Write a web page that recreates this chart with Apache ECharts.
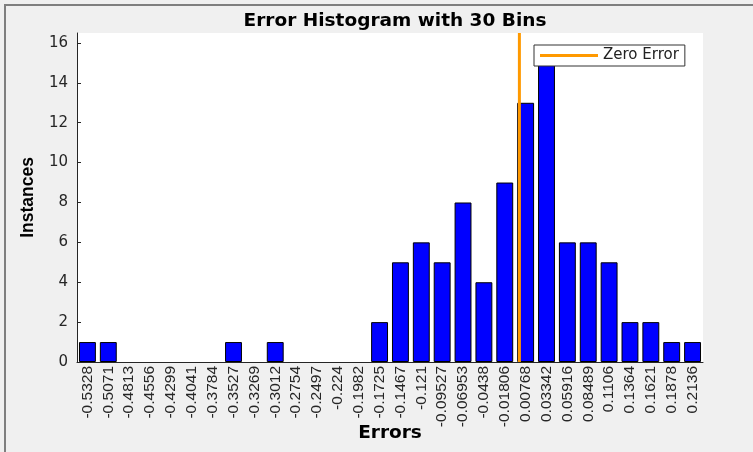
<!DOCTYPE html>
<html>
<head>
<meta charset="utf-8">
<script src="https://cdn.jsdelivr.net/npm/echarts@6/dist/echarts.min.js"></script>
<style>
  html, body { margin: 0; padding: 0; background: #f0f0f0; overflow: hidden; }
  #chart { width: 753px; height: 452px; }
  #frame { position: absolute; left: 4px; top: 4px; width: 780px; height: 480px; border-top: 2px solid #7f7f7f; border-left: 2px solid #7f7f7f; pointer-events: none; }
</style>
</head>
<body>
<div id="chart"></div>
<div id="frame"></div>
<script>
// bin centres as printed on the x axis
const binLabels = ['-0.5328', '-0.5071', '-0.4813', '-0.4556', '-0.4299', '-0.4041', '-0.3784', '-0.3527', '-0.3269', '-0.3012',
  '-0.2754', '-0.2497', '-0.224', '-0.1982', '-0.1725', '-0.1467', '-0.121', '-0.09527', '-0.06953', '-0.0438',
  '-0.01806', '0.00768', '0.03342', '0.05916', '0.08489', '0.1106', '0.1364', '0.1621', '0.1878', '0.2136']
const instances = [1, 1, 0, 0, 0, 0, 0, 1, 0, 1,
  0, 0, 0, 0, 2, 5, 6, 5, 8, 4,
  9, 13, 15, 6, 6, 5, 2, 2, 1, 1]
const zeroLine = [[0, 0], [0, 16.5]]

const binWidth = (0.2136 - -0.5328) / 29
// empty bins draw nothing
const barData = instances.map(v => (v === 0 ? '-' : v))

var chart = echarts.init(document.getElementById('chart'))
const option = {
  backgroundColor: '#f0f0f0',
  animation: false,
  title: {
    text: 'Error Histogram with 30 Bins',
    left: 390,
    textAlign: 'center',
    top: 7,
    textStyle: { fontFamily: 'DejaVu Sans', fontSize: 18.5, fontWeight: 'bold', color: '#000' }
  },
  legend: {
    data: [{ name: 'Zero Error', icon: 'rect' }],
    left: 534,
    top: 45,
    padding: [3, 6, 3, 6],
    itemWidth: 58,
    itemHeight: 3,
    itemGap: 0,
    backgroundColor: '#fff',
    borderColor: '#333',
    borderWidth: 1,
    borderRadius: 0,
    textStyle: { fontFamily: 'DejaVu Sans', fontSize: 15, color: '#222' }
  },
  grid: {
    left: 77, right: 50, top: 33, bottom: 90,
    outerBoundsMode: 'none',
    backgroundColor: '#fff', show: true, borderWidth: 0
  },
  xAxis: [{
    type: 'category',
    data: binLabels,
    name: 'Errors',
    nameLocation: 'middle',
    nameGap: 62,
    nameMoveOverlap: false,
    nameTextStyle: { fontFamily: 'DejaVu Sans', fontSize: 18.5, fontWeight: 'bold', color: '#000' },
    axisLine: { lineStyle: { color: '#262626', width: 1 } },
    axisTick: { inside: true, alignWithLabel: true, length: 4, lineStyle: { color: '#262626' } },
    axisLabel: { rotate: 90, interval: 0, margin: 4, fontFamily: 'Liberation Sans', fontSize: 15.5, color: '#262626' }
  }, {
    type: 'value',
    min: -0.5328 - binWidth / 2,
    max: 0.2136 + binWidth / 2,
    show: false
  }],
  yAxis: {
    type: 'value',
    min: 0,
    max: 16.5,
    interval: 2,
    name: 'Instances',
    nameLocation: 'middle',
    nameGap: 40,
    nameMoveOverlap: false,
    nameTextStyle: { fontFamily: 'Liberation Sans', fontSize: 17.5, fontWeight: 'bold', color: '#000' },
    splitLine: { show: false },
    axisLine: { show: true, onZero: false, lineStyle: { color: '#262626', width: 1 } },
    axisTick: { show: true, inside: true, length: 4, lineStyle: { color: '#262626' } },
    axisLabel: {
      margin: 9, fontFamily: 'DejaVu Sans', fontSize: 15, color: '#262626', showMaxLabel: false,
      formatter: v => (v % 2 === 0 ? v : '')
    }
  },
  series: [
    {
      name: 'Instances',
      type: 'bar',
      xAxisIndex: 0,
      data: barData,
      barWidth: '81%',
      itemStyle: { color: '#0000ff', borderColor: '#000', borderWidth: 1 }
    },
    {
      name: 'Zero Error',
      type: 'line',
      xAxisIndex: 1,
      data: zeroLine,
      symbol: 'none',
      lineStyle: { color: '#ff9900', width: 3 },
      itemStyle: { color: '#ff9900' },
      z: 5
    }
  ]
}
chart.setOption(option)
</script>
</body>
</html>
